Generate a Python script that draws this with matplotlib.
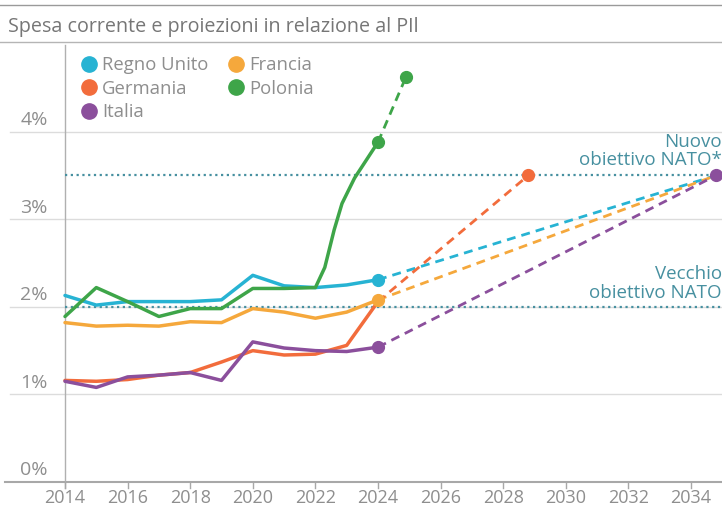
import matplotlib
matplotlib.use('Agg')
import matplotlib.pyplot as plt
from matplotlib.lines import Line2D

# historical spending as % of GDP
years = [2014, 2015, 2016, 2017, 2018, 2019, 2020, 2021, 2022, 2023, 2024]
regno_unito = [2.13, 2.02, 2.06, 2.06, 2.06, 2.08, 2.36, 2.24, 2.22, 2.25, 2.31]
francia = [1.82, 1.78, 1.79, 1.78, 1.83, 1.82, 1.98, 1.94, 1.87, 1.94, 2.08]
germania = [1.16, 1.15, 1.17, 1.22, 1.25, 1.37, 1.50, 1.45, 1.46, 1.56, 2.06]
italia = [1.15, 1.08, 1.20, 1.22, 1.25, 1.16, 1.60, 1.53, 1.50, 1.49, 1.54]
# Poland's jump is read at a few extra points along the curve
polonia_x = [2014, 2015, 2016, 2017, 2018, 2019, 2020, 2021, 2022, 2022.3, 2022.6, 2022.85, 2023.25, 2024]
polonia = [1.89, 2.22, 2.06, 1.89, 1.98, 1.98, 2.21, 2.21, 2.22, 2.45, 2.88, 3.18, 3.47, 3.88]

# projections (dashed), start and end point
proj_uk_x, proj_uk = [2024, 2034.8], [2.31, 3.5]
proj_fr_x, proj_fr = [2024, 2034.8], [2.08, 3.5]
proj_it_x, proj_it = [2024, 2034.8], [1.54, 3.5]
proj_de_x, proj_de = [2024, 2028.8], [2.06, 3.5]
proj_pl_x, proj_pl = [2024, 2024.9], [3.88, 4.63]

old_target = 2.0
new_target = 3.5
yticks = [0, 1, 2, 3, 4]
ytick_labels = ['0%', '1%', '2%', '3%', '4%']
xticks = list(range(2014, 2035, 2))

c_uk = '#27b3d3'
c_fr = '#f5a83c'
c_de = '#f26c3c'
c_pl = '#3ea549'
c_it = '#8b4f9c'
c_target = '#4790a0'
c_text = '#8e8e8e'

plt.rcParams['font.family'] = ['Open Sans', 'DejaVu Sans']

W, H = 722, 523
fig = plt.figure(figsize=(W / 100, H / 100), dpi=100)
# axes spans from x=10px to the right edge, so grid lines run left of the y axis
ax = fig.add_axes([10 / W, 1 - 482 / H, 1 - 10 / W, (482 - 45) / H])
ax.set_xlim(2014 - 55 / 31.3, 2014 + 657 / 31.3)
ax.set_ylim(0, 4.99)
ax.axis('off')

# header lines and title
fig.add_artist(Line2D([0, 1], [1 - 5 / H, 1 - 5 / H], color='#9a9a9a', lw=1))
fig.add_artist(Line2D([0, 1], [1 - 42 / H, 1 - 42 / H], color='#b5b5b5', lw=1))
fig.text(8 / W, 1 - 27 / H, 'Spesa corrente e proiezioni in relazione al PIl',
         color='#767676', fontsize=14.2, va='center', ha='left')

# grid lines and y labels
for v, lab in zip(yticks, ytick_labels):
    if v == 0:
        ax.plot([2014 - 60 / 31.3, 2035.5], [0, 0], color='#a8a8a8', lw=1.5, clip_on=False, zorder=1)
    else:
        ax.plot([2014 - 55 / 31.3, 2035.5], [v, v], color='#dcdcdc', lw=1, clip_on=False, zorder=1)
    ax.text(2014 - 31 / 31.3, v + 0.03, lab, color=c_text, fontsize=14,
            ha='center', va='bottom')

# y axis line and x ticks
ax.plot([2014, 2014], [-0.07, 4.99], color='#b0b0b0', lw=1, clip_on=False, zorder=1)
for x in xticks:
    ax.plot([x, x], [0, -0.07], color='#a8a8a8', lw=1, clip_on=False)
    ax.text(x, -0.18, str(x), color=c_text, fontsize=13,
            ha='center', va='center')

# NATO targets
for t in [old_target, new_target]:
    ax.plot([2014, 2035.5], [t, t], color=c_target, lw=1.6, ls=(0, (1, 1.6)), clip_on=False, zorder=2)
ax.text(2034.99, new_target + 0.07, 'Nuovo\nobiettivo NATO*', color=c_target, fontsize=13.5,
        ha='right', va='bottom', linespacing=1.05)
ax.text(2034.99, old_target + 0.06, 'Vecchio\nobiettivo NATO', color=c_target, fontsize=13.5,
        ha='right', va='bottom', linespacing=1.05)

# historical lines
lw = 2.5
ax.plot(years, regno_unito, color=c_uk, lw=lw, zorder=4, solid_capstyle='round')
ax.plot(years, francia, color=c_fr, lw=lw, zorder=4, solid_capstyle='round')
ax.plot(polonia_x, polonia, color=c_pl, lw=lw, zorder=5, solid_capstyle='round')
ax.plot(years, germania, color=c_de, lw=lw, zorder=4, solid_capstyle='round')
ax.plot(years, italia, color=c_it, lw=lw, zorder=4, solid_capstyle='round')

# projections
dash = (0, (3.2, 2.2))
ax.plot(proj_uk_x, proj_uk, color=c_uk, lw=2, ls=dash, zorder=3)
ax.plot(proj_fr_x, proj_fr, color=c_fr, lw=2, ls=dash, zorder=3)
ax.plot(proj_it_x, proj_it, color=c_it, lw=2, ls=dash, zorder=3)
ax.plot(proj_de_x, proj_de, color=c_de, lw=2, ls=dash, zorder=3)
ax.plot(proj_pl_x, proj_pl, color=c_pl, lw=2, ls=dash, zorder=3)

# end point dots
ms = 8.5
ax.plot(proj_uk_x[0], proj_uk[0], 'o', color=c_uk, ms=ms, zorder=6)
ax.plot(proj_fr_x[0], proj_fr[0], 'o', color=c_fr, ms=ms, zorder=6)
ax.plot(proj_it_x[0], proj_it[0], 'o', color=c_it, ms=ms, zorder=6)
ax.plot(proj_pl_x, proj_pl, 'o', color=c_pl, ms=ms, zorder=6)
ax.plot(proj_de_x[1], proj_de[1], 'o', color=c_de, ms=ms, zorder=6)
ax.plot(proj_it_x[1], proj_it[1], 'o', color=c_it, ms=ms, zorder=6, clip_on=False)

# legend, two columns
names = ['Regno Unito', 'Germania', 'Italia', 'Francia', 'Polonia']
cols = [c_uk, c_de, c_it, c_fr, c_pl]
handles = [Line2D([], [], marker='o', ls='', color=c, ms=11) for c in cols]
fig.legend(handles, names, loc='upper left', bbox_to_anchor=(80 / W, 1 - 56 / H),
           ncol=2, frameon=False, handlelength=0.95, handletextpad=0.25,
           columnspacing=1.0, labelspacing=0.3, borderpad=0, borderaxespad=0,
           labelcolor=c_text, prop={'size': 13.3})

fig.savefig('out.png', dpi=100)
